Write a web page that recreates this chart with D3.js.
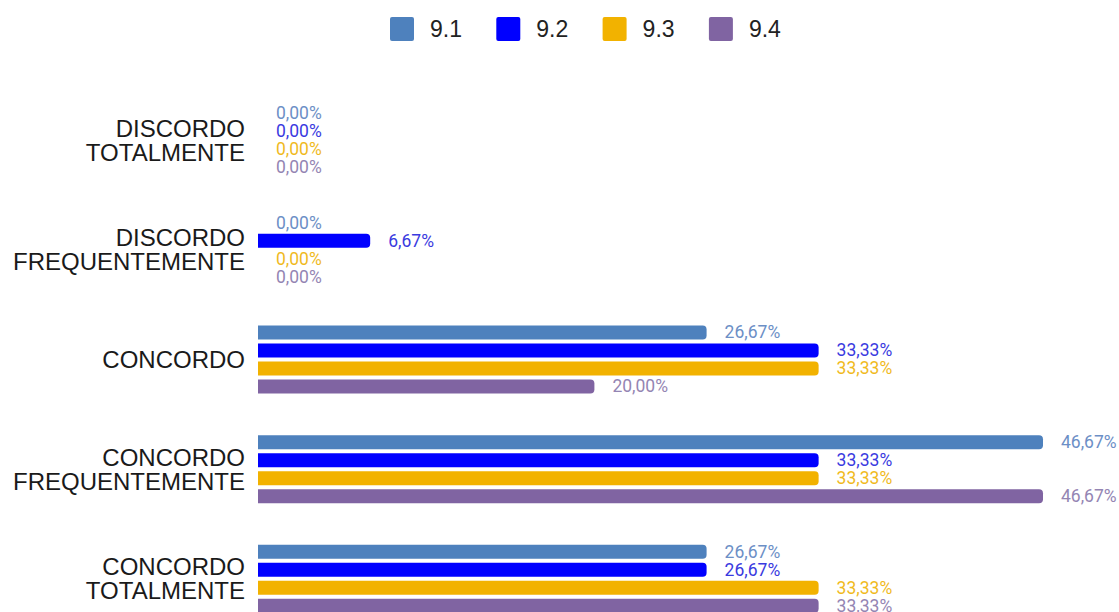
<!DOCTYPE html>
<html><head><meta charset="utf-8">
<script src="https://cdn.jsdelivr.net/npm/d3@7"></script>
<style>body{margin:0;background:#fff;overflow:hidden}</style>
</head><body><svg id="c" width="1119" height="612"></svg>
<script>
const categories = [["DISCORDO","TOTALMENTE"],["DISCORDO","FREQUENTEMENTE"],["CONCORDO"],["CONCORDO","FREQUENTEMENTE"],["CONCORDO","TOTALMENTE"]];
const seriesNames = ["9.1","9.2","9.3","9.4"];
const s91 = [0, 0, 26.67, 46.67, 26.67];
const s92 = [0, 6.67, 33.33, 33.33, 26.67];
const s93 = [0, 0, 33.33, 33.33, 33.33];
const s94 = [0, 0, 20.00, 46.67, 33.33];
const seriesValues = [s91, s92, s93, s94];
const colors = ["#4E81BD","#0000FF","#F2B200","#8064A2"];
const labelColors = ["#6C8FC6","#3A3AE0","#F0BA1E","#9485B3"];

const svg = d3.select("#c");
const y0 = d3.scaleBand().domain(d3.range(categories.length)).range([85.2, 633.7]);
const y1 = d3.scaleBand().domain(seriesNames).range([-34, 34]).paddingInner(4/18).paddingOuter(0);
const x = d3.scaleLinear().domain([0, 46.67]).range([258, 1043]);

// legend
const leg = svg.append("g");
seriesNames.forEach((n,i)=>{
  const lx = 390 + i*106.3;
  leg.append("rect").attr("x",lx).attr("y",17).attr("width",24).attr("height",24).attr("rx",2).attr("fill",colors[i]);
  leg.append("text").attr("x",lx+40).attr("y",37).attr("font-family","Liberation Sans, Arial, sans-serif").attr("font-size",23).attr("fill","#222").text(n);
});

function barPath(x0, x1, yy, h, r){
  const w = x1-x0;
  if (w <= 0) return "";
  r = Math.min(r, w, h/2);
  return `M${x0},${yy}H${x1-r}Q${x1},${yy} ${x1},${yy+r}V${yy+h-r}Q${x1},${yy+h} ${x1-r},${yy+h}H${x0}Z`;
}

categories.forEach((cat, ci)=>{
  const cy = y0(ci) + y0.bandwidth()/2;
  const t = svg.append("text").attr("text-anchor","end").attr("font-family","Liberation Sans, Arial, sans-serif").attr("font-size",24).attr("fill","#1a1a1a");
  const lh = 24;
  cat.forEach((line, li)=>{
    t.append("tspan").attr("x",245).attr("y", cy + 8.5 + (li - (cat.length-1)/2)*lh).text(line);
  });
  seriesNames.forEach((sn, si)=>{
    const v = seriesValues[si][ci];
    const by = cy + y1(sn);
    svg.append("path").attr("d", barPath(x(0), x(v), by, y1.bandwidth(), 4)).attr("fill", colors[si]);
    svg.append("text").attr("x", x(v)+18).attr("y", by + y1.bandwidth()/2 + 6)
      .attr("font-family","Roboto, sans-serif").attr("font-size",17.5).attr("fill",labelColors[si])
      .text(v.toFixed(2).replace(".", ",") + "%");
  });
});
</script></body></html>
